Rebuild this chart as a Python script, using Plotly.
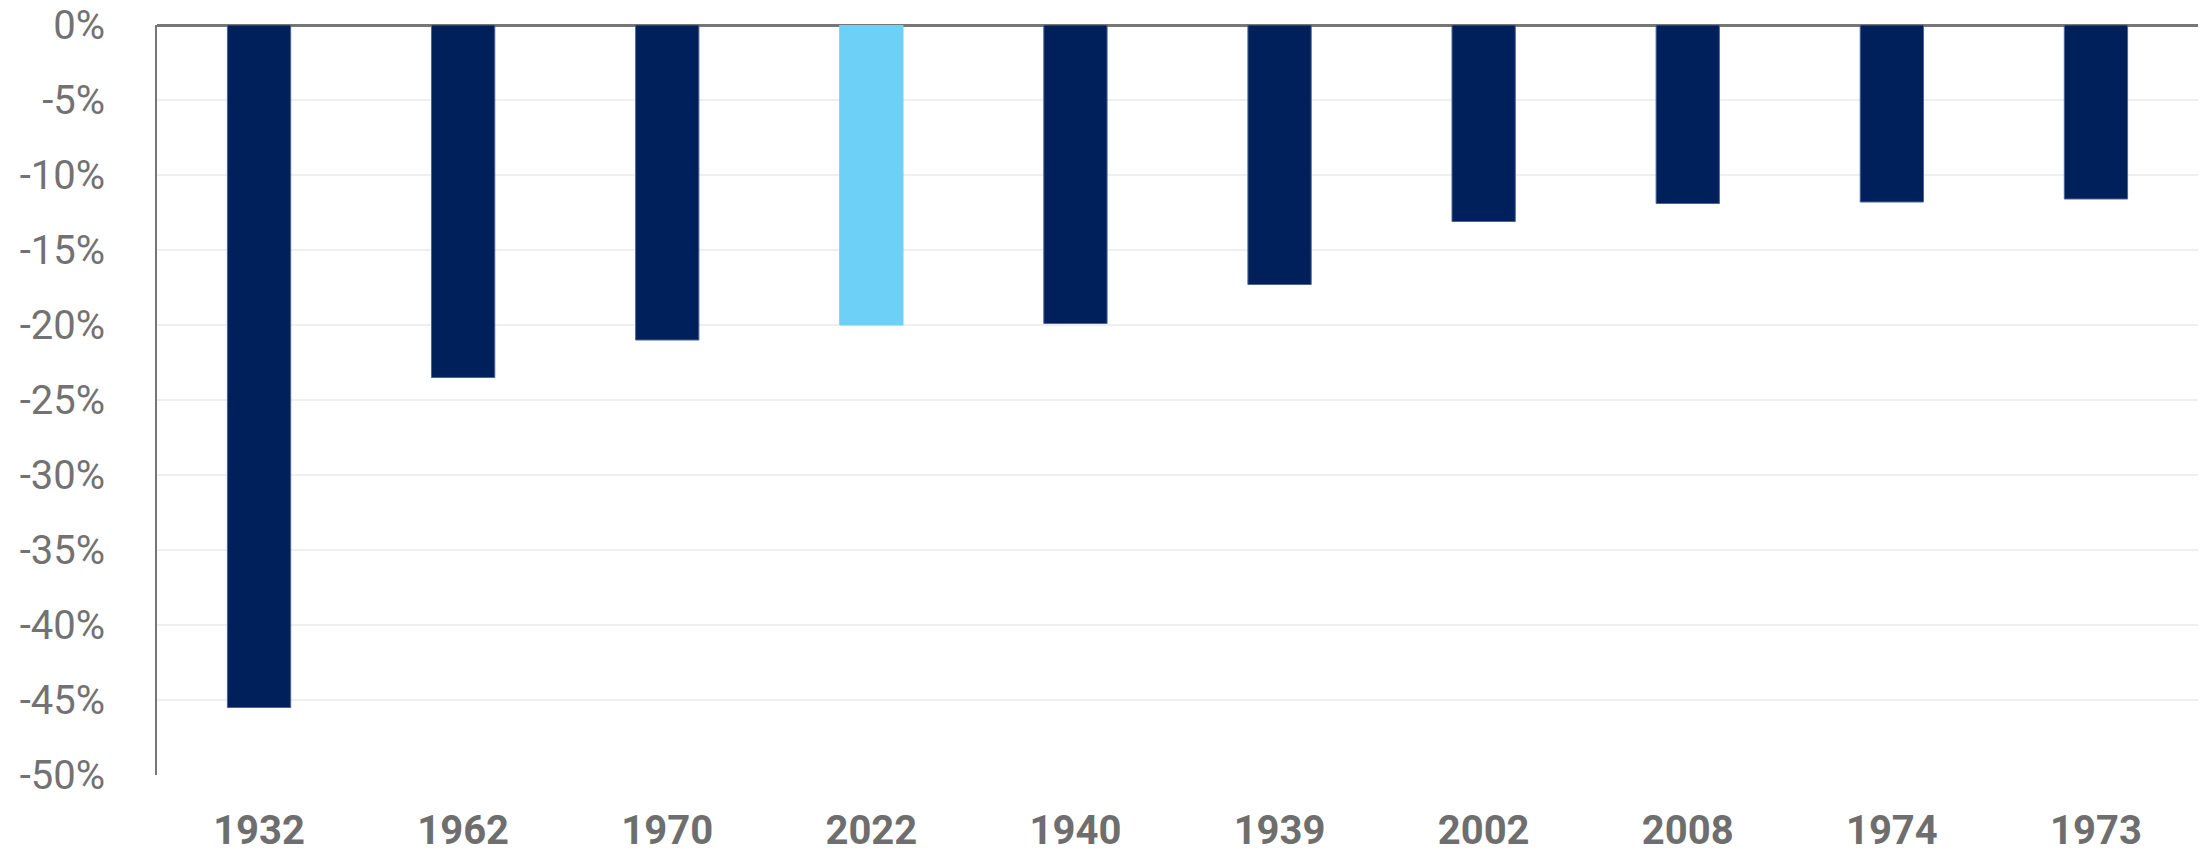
import plotly.graph_objects as go

years = ["1932", "1962", "1970", "2022", "1940", "1939", "2002", "2008", "1974", "1973"]
returns = [-45.5, -23.5, -21.0, -20.0, -19.9, -17.3, -13.1, -11.9, -11.8, -11.6]
highlight_year = "2022"

y_tick_values = [0, -5, -10, -15, -20, -25, -30, -35, -40, -45, -50]
y_tick_labels = ["0%", "-5%", "-10%", "-15%", "-20%", "-25%", "-30%", "-35%", "-40%", "-45%", "-50%"]

navy = "#00205B"
light = "#6DD1F7"
colors = [light if y == highlight_year else navy for y in years]
outline = [light if y == highlight_year else "#4B6494" for y in years]

fig = go.Figure(go.Bar(
    x=years, y=returns,
    marker=dict(color=colors, line=dict(color=outline, width=1)),
    width=0.31,
    hoverinfo="x+y",
))

fig.update_layout(
    width=2206, height=853,
    margin=dict(l=157, r=8, t=25, b=78, autoexpand=False),
    plot_bgcolor="white", paper_bgcolor="white",
    showlegend=False,
    font=dict(family="Roboto", color="#6E6E6E"),
)
fig.update_xaxes(
    type="category", automargin=False,
    tickfont=dict(size=40, family="Roboto", color="#6E6E6E", weight="bold"),
    showgrid=False, showline=False, ticks="",
    ticklabelstandoff=28,
)
fig.update_yaxes(
    range=[-50, 0], automargin=False,
    tickmode="array", tickvals=y_tick_values, ticktext=y_tick_labels,
    tickfont=dict(size=40, family="Roboto", color="#727272"),
    showgrid=True, gridcolor="#EFEFEF", gridwidth=2,
    showline=True, linecolor="#777777", linewidth=2,
    zeroline=True, zerolinecolor="#777777", zerolinewidth=3,
    ticks="", ticklabelstandoff=42,
)

fig.write_html("out.html")
